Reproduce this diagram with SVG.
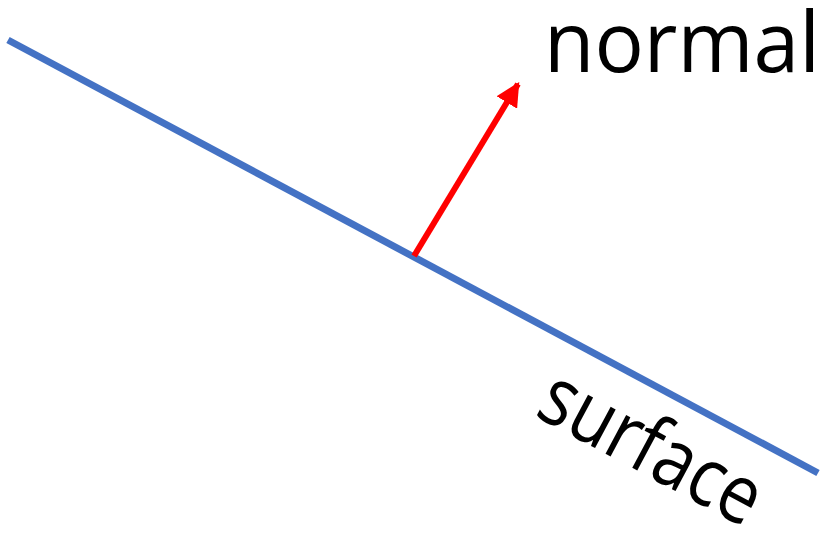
<svg xmlns="http://www.w3.org/2000/svg" width="820" height="533" viewBox="0 0 820 533">
<defs>
<style>
.lbl{font-family:"Open Sans","Noto Sans","Liberation Sans",sans-serif;fill:#000}
</style>
<marker id="ah" markerWidth="4" markerHeight="4" refX="3.6" refY="2" orient="auto" markerUnits="strokeWidth">
<path d="M0,0 L4,2 L0,4 Z" fill="#FF0000"/>
</marker>
</defs>
<g id="connectors">
<line id="surface-line" x1="8" y1="40" x2="818" y2="473" stroke="#4472C4" stroke-width="7"/>
<line id="normal-arrow" x1="414" y1="256" x2="518" y2="84" stroke="#FF0000" stroke-width="6" marker-end="url(#ah)"/>
</g>
<g id="normal-label">
<text class="lbl" x="544" y="72" font-size="84" textLength="276" lengthAdjust="spacingAndGlyphs">normal</text>
</g>
<g id="surface-label">
<text class="lbl" font-size="82" textLength="240" lengthAdjust="spacingAndGlyphs" transform="translate(533,415) rotate(28.1)">surface</text>
</g>
</svg>
